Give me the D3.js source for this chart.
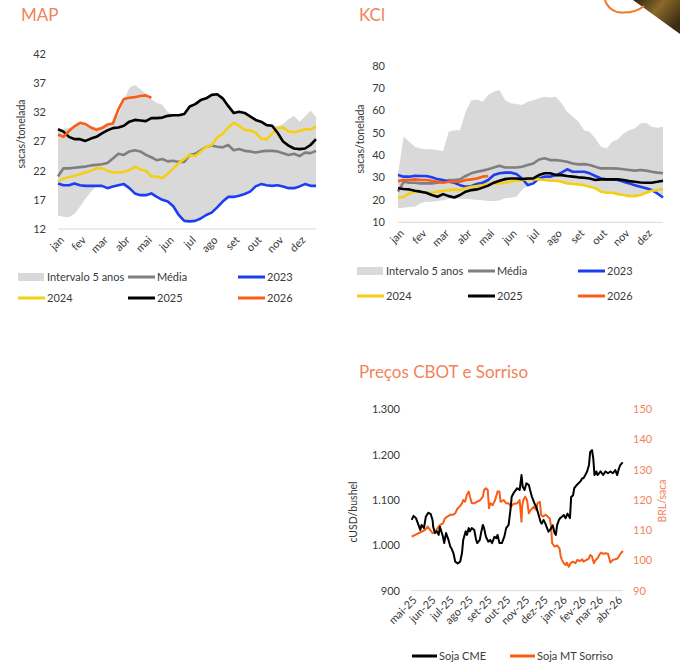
<!DOCTYPE html>
<html>
<head>
<meta charset="utf-8">
<script src="https://cdn.jsdelivr.net/npm/d3@7"></script>
<style>
body { margin: 0; background: #fff; }
text { font-family: Lato, "Open Sans", sans-serif; }
</style>
</head>
<body>
<svg id="chart" width="680" height="670"></svg>
<script>
// month labels
var months = ['jan', 'fev', 'mar', 'abr', 'mai', 'jun', 'jul', 'ago', 'set', 'out', 'nov', 'dez'];
var cbotMonths = ['mai-25', 'jun-25', 'jul-25', 'ago-25', 'set-25', 'out-25', 'nov-25', 'dez-25', 'jan-26', 'fev-26', 'mar-26', 'abr-26'];

// MAP, sacas/tonelada, 4 points per month
var mapUpper = [29.0, 29.2, 29.3, 29.5, 30.0, 30.0, 29.6, 29.4, 29.5, 29.9, 30.3, 31.5, 34.0, 36.2, 36.7, 36.0, 35.2, 34.3, 33.6, 33.3, 32.0, 31.6, 31.6, 31.8, 33.1, 33.5, 34.2, 34.5, 35.1, 35.2, 34.5, 33.2, 32.0, 32.2, 32.0, 31.4, 30.8, 30.5, 29.9, 29.8, 29.6, 30.0, 30.8, 31.4, 30.4, 31.3, 32.3, 31.2];
var mapLower = [14.3, 14.1, 14.0, 14.6, 15.8, 17.2, 18.4, 19.4, 19.4, 19.0, 19.3, 19.5, 19.7, 19.0, 18.1, 17.8, 17.8, 18.1, 17.5, 17.0, 16.7, 15.9, 14.4, 13.4, 13.3, 13.4, 13.8, 14.4, 14.8, 15.7, 16.7, 17.5, 17.5, 17.7, 18.0, 18.4, 19.3, 19.7, 19.5, 19.4, 19.5, 19.3, 19.0, 19.0, 19.3, 19.7, 19.4, 19.4];
var mapMedia = [21.0, 22.4, 22.4, 22.5, 22.6, 22.7, 22.9, 23.0, 23.1, 23.3, 24.1, 24.9, 24.7, 25.3, 25.5, 25.3, 24.7, 24.3, 23.8, 24.0, 23.6, 23.7, 23.5, 23.5, 24.7, 24.9, 25.5, 26.1, 26.3, 26.1, 26.0, 26.4, 25.5, 25.7, 25.4, 25.3, 25.1, 25.3, 25.4, 25.4, 25.3, 25.0, 24.7, 24.9, 24.5, 25.1, 25.0, 25.4];
var map2023 = [19.8, 19.5, 19.5, 19.8, 19.5, 19.4, 19.4, 19.4, 19.4, 19.0, 19.3, 19.5, 19.7, 19.0, 18.1, 17.8, 17.8, 18.1, 17.5, 17.0, 16.7, 15.9, 14.4, 13.4, 13.3, 13.4, 13.8, 14.4, 14.8, 15.7, 16.7, 17.5, 17.5, 17.7, 18.0, 18.4, 19.3, 19.7, 19.5, 19.4, 19.5, 19.3, 19.0, 19.0, 19.3, 19.7, 19.4, 19.4];
var map2024 = [20.1, 20.7, 20.9, 21.1, 21.4, 21.7, 22.0, 22.4, 22.4, 22.0, 21.7, 21.7, 21.8, 22.1, 22.7, 22.2, 22.0, 21.0, 21.0, 20.7, 21.5, 22.4, 23.3, 24.0, 24.7, 24.5, 25.3, 26.1, 26.4, 27.7, 28.3, 29.4, 30.2, 29.7, 29.0, 28.9, 28.5, 27.5, 27.4, 28.3, 29.3, 29.4, 28.7, 28.6, 28.8, 29.1, 29.1, 29.5];
var map2025 = [29.1, 28.7, 27.8, 27.4, 27.4, 27.1, 27.5, 27.8, 28.4, 28.9, 29.3, 29.4, 29.7, 30.4, 30.7, 30.6, 30.5, 31.0, 31.0, 31.1, 31.4, 31.5, 31.5, 31.7, 33.0, 33.4, 34.1, 34.4, 35.0, 35.1, 34.4, 33.1, 31.9, 32.1, 31.9, 31.3, 30.7, 30.4, 29.8, 29.7, 28.5, 27.0, 26.3, 25.8, 25.7, 25.8, 26.4, 27.4];
var map2026 = [28.2, 27.8, 28.8, 29.6, 30.2, 30.0, 29.4, 29.0, 29.3, 29.9, 30.1, 32.5, 34.3, 34.5, 34.6, 34.8, 34.9, 34.5];
var mapTicks = [12, 17, 22, 27, 32, 37, 42];

// KCl, sacas/tonelada
var kclUpper = [31.5, 48.3, 46.0, 43.8, 43.0, 42.7, 42.6, 42.3, 41.8, 50.5, 51.2, 51.2, 59.4, 64.6, 64.9, 63.9, 66.9, 68.4, 69.1, 64.6, 63.2, 62.9, 62.4, 63.9, 64.6, 65.4, 66.1, 65.8, 66.1, 63.2, 59.4, 57.2, 55.0, 51.2, 50.5, 47.5, 43.8, 43.0, 46.0, 47.1, 49.7, 51.2, 52.0, 54.2, 54.5, 52.7, 52.3, 52.7];
var kclLower = [16.3, 16.5, 16.8, 17.0, 18.5, 19.2, 19.2, 19.5, 19.9, 20.5, 20.7, 20.5, 20.4, 20.3, 20.0, 19.9, 19.5, 19.5, 19.7, 20.7, 21.0, 21.4, 24.4, 26.6, 27.4, 29.2, 28.9, 28.6, 28.6, 28.1, 27.4, 27.1, 26.9, 26.6, 25.9, 25.2, 23.7, 23.2, 23.2, 22.6, 22.2, 21.7, 21.7, 22.2, 23.2, 24.1, 22.9, 21.1];
var kclMedia = [23.7, 28.1, 27.7, 27.7, 27.4, 27.4, 27.4, 27.7, 28.1, 28.9, 28.9, 29.2, 30.7, 31.9, 32.6, 33.1, 33.7, 34.5, 35.3, 34.5, 34.5, 34.5, 34.8, 35.6, 36.3, 38.1, 38.6, 37.8, 37.8, 37.5, 37.1, 36.3, 35.9, 36.0, 35.6, 34.8, 34.1, 34.1, 34.1, 34.0, 33.7, 33.4, 33.1, 33.4, 33.1, 32.6, 32.2, 31.9];
var kcl2023 = [31.1, 30.4, 30.4, 30.8, 30.7, 30.7, 30.1, 29.3, 28.9, 28.1, 27.7, 26.6, 25.9, 26.2, 27.1, 27.7, 28.9, 31.1, 31.9, 32.2, 32.2, 31.6, 29.6, 26.6, 27.4, 29.6, 30.4, 30.4, 31.1, 32.2, 33.7, 32.6, 32.6, 32.6, 31.9, 30.7, 29.6, 29.2, 29.2, 28.9, 28.1, 27.4, 26.6, 25.9, 25.2, 24.4, 22.9, 21.1];
var kcl2024 = [21.0, 21.4, 22.9, 23.7, 23.7, 23.2, 23.2, 23.7, 24.1, 24.4, 24.7, 24.4, 25.2, 25.9, 26.2, 26.6, 27.1, 27.4, 27.4, 27.7, 28.1, 28.6, 28.9, 29.2, 29.2, 29.2, 28.9, 28.6, 28.6, 28.1, 27.4, 27.1, 26.9, 26.6, 25.9, 25.2, 23.7, 23.2, 23.2, 22.6, 22.2, 21.7, 21.7, 22.2, 23.2, 24.1, 24.4, 24.9];
var kcl2025 = [25.2, 24.9, 24.7, 24.1, 23.7, 23.2, 22.2, 21.4, 22.6, 21.7, 21.1, 22.2, 23.7, 24.4, 24.7, 25.5, 26.4, 27.7, 28.6, 29.3, 29.6, 29.6, 29.3, 29.6, 29.6, 31.1, 31.9, 31.9, 31.1, 31.1, 30.7, 30.4, 30.1, 29.9, 29.6, 28.9, 29.2, 29.2, 29.2, 29.2, 28.9, 28.4, 28.1, 27.8, 27.7, 27.7, 28.1, 28.6];
var kcl2026 = [28.4, 28.9, 28.9, 29.2, 28.9, 28.9, 28.6, 28.1, 27.7, 28.1, 28.1, 28.1, 28.9, 29.2, 29.6, 30.4, 30.7];
var kclTicks = [10, 20, 30, 40, 50, 60, 70, 80];

// CBOT x Sorriso, days since 1 May 2025
var cmeDays = [0, 3, 7, 11, 14, 16, 20, 23, 27, 31, 34, 35, 38, 41, 44, 46, 51, 53, 56, 60, 63, 65, 68, 71, 75, 79, 82, 84, 88, 90, 93, 95, 98, 102, 105, 107, 111, 113, 116, 118, 121, 125, 128, 131, 135, 138, 140, 143, 147, 151, 154, 158, 161, 163, 166, 172, 176, 179, 181, 184, 187, 191, 193, 196, 200, 203, 207, 210, 212, 215, 218, 221, 223, 227, 230, 233, 235, 237, 240, 242, 245, 248, 251, 254, 258, 260, 263, 265, 269, 272, 275, 278, 280, 283, 286, 289, 291, 294, 296, 298, 301, 303, 308, 312, 316, 320, 324, 328, 332, 335, 338, 340, 344];
var cmeValues = [1056, 1065, 1060, 1045, 1034, 1045, 1038, 1063, 1072, 1069, 1056, 1041, 1027, 1031, 1023, 1041, 1019, 1005, 1027, 1012, 997, 993, 983, 964, 960, 964, 983, 1012, 1031, 1023, 1038, 1031, 1038, 1034, 1012, 1005, 1012, 1027, 1045, 1038, 1019, 1008, 1012, 1005, 1019, 1016, 1023, 1005, 1005, 1019, 1038, 1045, 1078, 1107, 1115, 1126, 1122, 1155, 1129, 1122, 1137, 1133, 1122, 1107, 1093, 1085, 1067, 1052, 1048, 1056, 1048, 1037, 1030, 1037, 1044, 1027, 1023, 1044, 1056, 1060, 1063, 1067, 1060, 1070, 1060, 1107, 1110, 1126, 1133, 1137, 1141, 1148, 1148, 1155, 1163, 1177, 1206, 1210, 1192, 1155, 1163, 1155, 1163, 1155, 1163, 1159, 1163, 1159, 1166, 1155, 1170, 1177, 1183];
var sorDays = [0, 5, 11, 16, 22, 26, 30, 34, 38, 42, 46, 51, 54, 58, 63, 67, 71, 75, 78, 82, 84, 87, 90, 93, 95, 98, 102, 106, 112, 116, 118, 121, 124, 126, 128, 132, 136, 140, 143, 145, 150, 154, 158, 162, 166, 172, 176, 179, 180, 182, 185, 188, 191, 194, 199, 203, 205, 209, 211, 214, 218, 222, 225, 227, 229, 233, 237, 241, 243, 245, 248, 251, 253, 256, 259, 263, 267, 270, 274, 278, 280, 285, 289, 291, 294, 297, 300, 303, 307, 309, 312, 316, 320, 324, 328, 332, 336, 339, 343, 345];
var sorValues = [107.9, 108.4, 109.0, 109.5, 110.1, 111.2, 110.1, 109.0, 109.5, 110.6, 111.7, 112.3, 113.9, 114.5, 115.1, 115.1, 115.6, 117.3, 117.8, 118.9, 120.0, 119.4, 121.7, 122.8, 121.1, 118.9, 118.9, 119.4, 120.0, 121.1, 123.3, 123.9, 123.3, 117.3, 118.9, 118.3, 120.0, 122.8, 122.8, 119.4, 120.0, 118.9, 118.9, 117.8, 118.7, 118.9, 120.0, 112.8, 117.8, 120.0, 121.1, 120.0, 115.6, 116.7, 117.8, 116.7, 118.9, 119.4, 115.1, 114.5, 115.1, 114.5, 113.9, 111.7, 105.7, 104.6, 105.0, 104.0, 101.3, 100.2, 99.1, 98.5, 99.3, 97.9, 99.1, 99.6, 99.1, 100.2, 99.8, 100.4, 99.6, 100.2, 100.7, 101.8, 101.3, 99.1, 100.2, 100.7, 102.2, 102.6, 102.2, 102.4, 102.2, 99.3, 100.2, 100.4, 100.7, 101.8, 102.9, 102.9];
var cmeTicks = [900, 1000, 1100, 1200, 1300];
var sorTicks = [90, 100, 110, 120, 130, 140, 150];

var COLORS = {band: '#d9d9d9', media: '#7f7f7f', y2023: '#1c3ef2', y2024: '#f5cf15', y2025: '#000000', y2026: '#f95d16', title: '#f2835a', axis: '#d9d9d9', text: '#3a3a3a'};

var svg = d3.select('#chart');

// top right corner decoration
var grad = svg.append('defs').append('linearGradient').attr('id', 'photo').attr('x1', 0).attr('x2', 1).attr('y1', 0).attr('y2', 0.6);
grad.append('stop').attr('offset', '0%').attr('stop-color', '#2e2210');
grad.append('stop').attr('offset', '50%').attr('stop-color', '#8a6a2a');
grad.append('stop').attr('offset', '100%').attr('stop-color', '#3b2c12');
svg.append('path').attr('d', 'M633,0 L680,0 L680,34 Z').attr('fill', 'url(#photo)');
svg.append('path').attr('d', 'M605,0 C607,7 613,12 621,12.5 C630,13 638,11 644,6').attr('fill', 'none').attr('stroke', '#f07a28').attr('stroke-width', 2);

function drawSeasonal(cfg) {
    var x = d3.scaleLinear().domain([0, 47]).range([cfg.x0, cfg.x1]);
    var y = d3.scaleLinear().domain(cfg.yDomain).range([cfg.yBottom, cfg.yTop]);
    var g = svg.append('g');

    g.append('text').attr('x', cfg.titleX).attr('y', 21).attr('fill', COLORS.title)
        .style('font-size', '17px').text(cfg.title);

    // 5 year band
    g.append('path')
        .datum(d3.range(48))
        .attr('fill', COLORS.band)
        .attr('d', d3.area()
            .x(function (i) { return x(i); })
            .y0(function (i) { return y(cfg.lower[i]); })
            .y1(function (i) { return y(cfg.upper[i]); }));

    g.append('line').attr('x1', cfg.x0).attr('x2', cfg.x1)
        .attr('y1', cfg.yBottom).attr('y2', cfg.yBottom)
        .attr('stroke', COLORS.axis);

    // y ticks
    g.selectAll('.ytick').data(cfg.ticks).enter().append('text')
        .attr('x', cfg.tickX).attr('y', function (d) { return y(d); }).attr('dy', '0.35em')
        .attr('text-anchor', 'end').attr('fill', COLORS.text).style('font-size', '11px')
        .text(function (d) { return d; });

    g.append('text')
        .attr('transform', 'translate(' + cfg.labelX + ',' + cfg.labelY + ') rotate(-90)')
        .attr('text-anchor', 'middle').attr('fill', COLORS.text).style('font-size', '10.5px')
        .text('sacas/tonelada');

    // month labels
    g.selectAll('.mlabel').data(months).enter().append('text')
        .attr('transform', function (d, m) { return 'translate(' + (x(m * 4) + 4) + ',' + (cfg.yBottom + 9) + ') rotate(-45)'; })
        .attr('text-anchor', 'end').attr('dy', '0.35em').attr('fill', COLORS.text).style('font-size', '11px')
        .text(function (d) { return d; });

    var line = d3.line()
        .x(function (d, i) { return x(i); })
        .y(function (d) { return y(d); });

    cfg.series.forEach(function (s) {
        g.append('path').datum(s.values)
            .attr('fill', 'none').attr('stroke', s.color).attr('stroke-width', 2.6)
            .attr('stroke-linejoin', 'round').attr('d', line);
    });

    // legend
    var items = [{name: 'Intervalo 5 anos', color: COLORS.band, band: true}].concat(cfg.series);
    items.forEach(function (it, k) {
        var lx = cfg.legX[k % 3];
        var ly = cfg.legY[Math.floor(k / 3)];
        if (it.band) {
            g.append('rect').attr('x', lx).attr('y', ly - 4).attr('width', 26).attr('height', 8).attr('fill', it.color);
        } else {
            g.append('line').attr('x1', lx).attr('x2', lx + 27).attr('y1', ly).attr('y2', ly)
                .attr('stroke', it.color).attr('stroke-width', 3);
        }
        g.append('text').attr('x', lx + 29).attr('y', ly).attr('dy', '0.35em')
            .attr('fill', COLORS.text).style('font-size', '11px').text(it.name);
    });
}

drawSeasonal({
    title: 'MAP', titleX: 21,
    x0: 58, x1: 316, yTop: 54, yBottom: 229, yDomain: [12, 42], ticks: mapTicks,
    tickX: 46, labelX: 25, labelY: 134,
    upper: mapUpper, lower: mapLower,
    series: [
        {name: 'Média', values: mapMedia, color: COLORS.media},
        {name: '2023', values: map2023, color: COLORS.y2023},
        {name: '2024', values: map2024, color: COLORS.y2024},
        {name: '2025', values: map2025, color: COLORS.y2025},
        {name: '2026', values: map2026, color: COLORS.y2026}
    ],
    legX: [18, 128, 238], legY: [277, 298]
});

drawSeasonal({
    title: 'KCl', titleX: 359,
    x0: 398, x1: 663, yTop: 65.7, yBottom: 222.3, yDomain: [10, 80], ticks: kclTicks,
    tickX: 385, labelX: 364, labelY: 139,
    upper: kclUpper, lower: kclLower,
    series: [
        {name: 'Média', values: kclMedia, color: COLORS.media},
        {name: '2023', values: kcl2023, color: COLORS.y2023},
        {name: '2024', values: kcl2024, color: COLORS.y2024},
        {name: '2025', values: kcl2025, color: COLORS.y2025},
        {name: '2026', values: kcl2026, color: COLORS.y2026}
    ],
    legX: [357, 468, 578], legY: [271, 296]
});

// CBOT x Sorriso chart
(function () {
    var start = new Date(2025, 4, 1);
    var day = function (d) { return d3.timeDay.offset(start, d); };
    var x = d3.scaleTime().domain([start, day(344.7)]).range([411.7, 622.7]);
    var yl = d3.scaleLinear().domain([900, 1300]).range([590.7, 409.3]);
    var yr = d3.scaleLinear().domain([90, 150]).range([590.7, 409.3]);
    var g = svg.append('g');
    var fmt = function (d) { return d3.format(',')(d).replace(',', '.'); };

    g.append('text').attr('x', 359).attr('y', 378).attr('fill', COLORS.title)
        .style('font-size', '17px').text('Preços CBOT e Sorriso');

    g.append('line').attr('x1', 411).attr('x2', 623).attr('y1', yl(900)).attr('y2', yl(900))
        .attr('stroke', COLORS.axis);

    g.selectAll('.lt').data(cmeTicks).enter().append('text')
        .attr('x', 400).attr('y', function (d) { return yl(d); }).attr('dy', '0.35em')
        .attr('text-anchor', 'end').attr('fill', COLORS.text).style('font-size', '11px').text(fmt);

    g.selectAll('.rt').data(sorTicks).enter().append('text')
        .attr('x', 633).attr('y', function (d) { return yr(d); }).attr('dy', '0.35em')
        .attr('fill', COLORS.title).style('font-size', '11px').text(function (d) { return d; });

    g.append('text').attr('transform', 'translate(357,512) rotate(-90)')
        .attr('text-anchor', 'middle').attr('fill', COLORS.text).style('font-size', '10.5px').text('cUSD/bushel');
    g.append('text').attr('transform', 'translate(666,501) rotate(-90)')
        .attr('text-anchor', 'middle').attr('fill', COLORS.title).style('font-size', '10.5px').text('BRL/saca');

    g.selectAll('.xl').data(cbotMonths).enter().append('text')
        .attr('transform', function (d, m) { return 'translate(' + (x(d3.timeMonth.offset(start, m)) + 3) + ',598) rotate(-45)'; })
        .attr('text-anchor', 'end').attr('dy', '0.35em').attr('fill', COLORS.text).style('font-size', '11px')
        .text(function (d) { return d; });

    var cme = d3.line()
        .x(function (d, i) { return x(day(cmeDays[i])); })
        .y(function (d) { return yl(d); });
    var sor = d3.line()
        .x(function (d, i) { return x(day(sorDays[i])); })
        .y(function (d) { return yr(d); });

    g.append('path').datum(sorValues).attr('fill', 'none').attr('stroke', COLORS.y2026)
        .attr('stroke-width', 2).attr('stroke-linejoin', 'round').attr('d', sor);
    g.append('path').datum(cmeValues).attr('fill', 'none').attr('stroke', '#000')
        .attr('stroke-width', 2).attr('stroke-linejoin', 'round').attr('d', cme);

    var leg = [{name: 'Soja CME', color: '#000', x: 412}, {name: 'Soja MT Sorriso', color: COLORS.y2026, x: 510}];
    leg.forEach(function (it) {
        g.append('line').attr('x1', it.x).attr('x2', it.x + 25).attr('y1', 656).attr('y2', 656)
            .attr('stroke', it.color).attr('stroke-width', 3);
        g.append('text').attr('x', it.x + 27).attr('y', 656).attr('dy', '0.35em')
            .attr('fill', COLORS.text).style('font-size', '11px').text(it.name);
    });
})();
</script>
</body>
</html>
